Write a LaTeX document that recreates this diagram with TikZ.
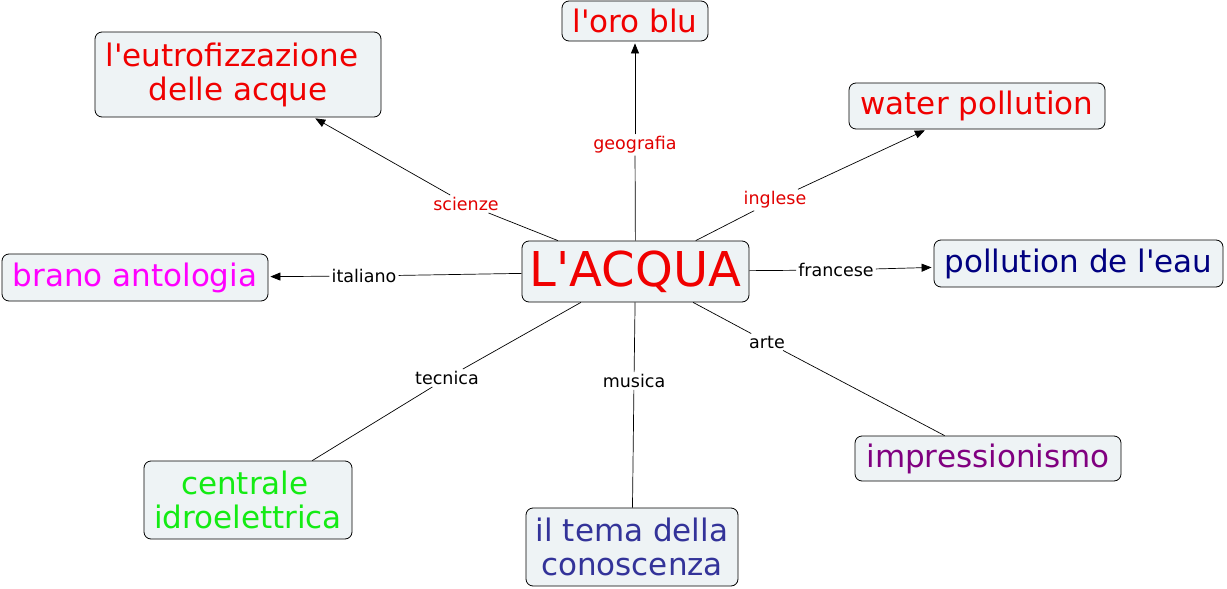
\documentclass[tikz,border=0pt]{standalone}
\usepackage{fontspec}
\setmainfont{DejaVu Sans}[Ligatures=TeXOff]
\usetikzlibrary{arrows.meta}
\definecolor{boxfill}{RGB}{238,243,245}
\definecolor{cred}{RGB}{240,0,0}
\definecolor{lred}{RGB}{225,0,0}
\definecolor{cmag}{RGB}{255,0,255}
\definecolor{cnavy}{RGB}{0,0,128}
\definecolor{cpurple}{RGB}{128,0,128}
\definecolor{cblue}{RGB}{51,51,153}
\definecolor{cgreen}{RGB}{20,235,20}
\tikzset{
  concept/.style={draw=black, line width=0.8pt, rounded corners=7pt, fill=boxfill,
    inner sep=0pt, align=center, font=\fontsize{31}{34}\selectfont},
  linklabel/.style={fill=white, inner sep=2pt, font=\fontsize{17.5}{19}\selectfont},
  conn/.style={draw=black, line width=0.7pt},
  arr/.style={conn, -{Triangle[length=10pt,width=8pt]}, shorten >=2pt},
}
\begin{document}
\begin{tikzpicture}[x=1pt,y=-1pt]
\useasboundingbox (0,0) rectangle (1227,589);
% concepts
\node[concept, minimum width=227pt, minimum height=61pt, text=cred, font=\fontsize{48}{50}\selectfont] (c) at (635.5,271.5) {L'ACQUA};
\node[concept, minimum width=146pt, minimum height=40pt, text=cred] (oro) at (635,21) {l'oro blu};
\node[concept, minimum width=286pt, minimum height=85pt, text=cred] (eutro) at (238,74.5) {l'eutrofizzazione\rule{0.4em}{0pt}\\delle acque};
\node[concept, minimum width=256pt, minimum height=46pt, text=cred] (water) at (977,106) {water pollution};
\node[concept, minimum width=266pt, minimum height=47pt, text=cmag] (brano) at (135,277.5) {brano antologia};
\node[concept, minimum width=289pt, minimum height=47pt, text=cnavy] (pollu) at (1078.5,263.5) {pollution de l'eau};
\node[concept, minimum width=266pt, minimum height=45pt, text=cpurple] (impr) at (988,458.5) {impressionismo};
\node[concept, minimum width=212pt, minimum height=78pt, text=cblue] (tema) at (632,547) {il tema della\\conoscenza};
\node[concept, minimum width=208pt, minimum height=78pt, text=cgreen] (centr) at (248,500) {centrale\rule{0.2em}{0pt}\\idroelettrica};
% link labels
\node[linklabel, text=lred] (lsci) at (466,204) {scienze};
\node[linklabel, text=lred] (lgeo) at (635,145) {geografia};
\node[linklabel, text=lred] (ling) at (775,200) {inglese};
\node[linklabel] (lita) at (364,276) {italiano};
\node[linklabel] (lfra) at (836,270) {francese};
\node[linklabel] (ltec) at (447,378) {tecnica};
\node[linklabel] (lmus) at (634,381) {musica};
\node[linklabel] (lart) at (767,342) {arte};
% connectors
\draw[conn] (c) -- (lsci);
\draw[arr] (lsci) -- (eutro);
\draw[conn] (c) -- (lgeo);
\draw[arr] (lgeo) -- (oro);
\draw[conn] (c) -- (ling);
\draw[arr] (ling) -- (water);
\draw[conn] (c) -- (lita);
\draw[arr] (lita) -- (brano);
\draw[conn] (c) -- (lfra);
\draw[arr] (lfra) -- (pollu);
\draw[conn] (c) -- (ltec);
\draw[conn] (ltec) -- (centr);
\draw[conn] (c) -- (lmus);
\draw[conn] (lmus) -- (tema);
\draw[conn] (c) -- (lart);
\draw[conn] (lart) -- (impr);
\end{tikzpicture}
\end{document}
